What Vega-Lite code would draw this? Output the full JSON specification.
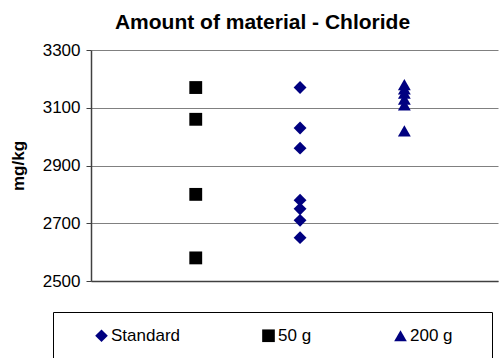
{
  "$schema": "https://vega.github.io/schema/vega-lite/v6.json",
  "width": 407,
  "height": 231,
  "autosize": {"type": "none"},
  "padding": {"left": 91, "top": 50, "right": 1, "bottom": 77},
  "background": "white",
  "title": {"text": "Amount of material - Chloride", "font": "Liberation Sans", "fontSize": 21, "fontWeight": "bold", "anchor": "middle", "frame": "group", "dx": -32, "dy": -4, "color": "#000000"},
  "data": {"values": [
    {"group": "50 g", "value": 3170},
    {"group": "50 g", "value": 3060},
    {"group": "50 g", "value": 2800},
    {"group": "50 g", "value": 2580},
    {"group": "Standard", "value": 3170},
    {"group": "Standard", "value": 3030},
    {"group": "Standard", "value": 2960},
    {"group": "Standard", "value": 2780},
    {"group": "Standard", "value": 2750},
    {"group": "Standard", "value": 2710},
    {"group": "Standard", "value": 2650},
    {"group": "200 g", "value": 3180},
    {"group": "200 g", "value": 3165},
    {"group": "200 g", "value": 3150},
    {"group": "200 g", "value": 3130},
    {"group": "200 g", "value": 3110},
    {"group": "200 g", "value": 3020}
  ]},
  "mark": {"type": "point", "filled": true, "opacity": 1, "size": 165, "strokeWidth": 0},
  "encoding": {
    "x": {"field": "group", "type": "nominal", "sort": ["50 g", "Standard", "200 g"],
      "scale": {"type": "point", "padding": 0.951, "align": 0.528},
      "axis": {"title": null, "labels": false, "ticks": false, "grid": false, "domainColor": "#404040", "domainWidth": 1.5}},
    "y": {"field": "value", "type": "quantitative",
      "scale": {"domain": [2500, 3300], "nice": false, "zero": false},
      "axis": {"title": "mg/kg", "values": [2500, 2700, 2900, 3100, 3300], "format": "d", "grid": true, "gridColor": "#808080", "gridWidth": 1,
        "domainColor": "#404040", "domainWidth": 1.5, "tickColor": "#404040", "tickSize": 5, "labelPadding": 6,
        "labelFontSize": 17, "labelColor": "#000000", "labelFont": "Liberation Sans",
        "titleFontSize": 17, "titleFontWeight": "bold", "titleColor": "#000000", "titleFont": "Liberation Sans", "titlePadding": 15}},
    "shape": {"field": "group", "type": "nominal",
      "scale": {"domain": ["Standard", "50 g", "200 g"], "range": ["diamond", "square", "triangle-up"]},
      "legend": {"title": "\u00a0", "labelExpr": "datum.label == '200 g' ? datum.label + '\u2800\u2800' : datum.label"}},
    "color": {"field": "group", "type": "nominal",
      "scale": {"domain": ["Standard", "50 g", "200 g"], "range": ["#000080", "#000000", "#000080"]},
      "legend": {"title": "\u00a0", "labelExpr": "datum.label == '200 g' ? datum.label + '\u2800\u2800' : datum.label"}}
  },
  "config": {
    "view": {"stroke": null},
    "font": "Liberation Sans",
    "legend": {
      "orient": "none", "legendX": -38, "legendY": 262, "direction": "horizontal", "columns": 3,
      "titleOrient": "left", "titlePadding": 25, "titleFontSize": 17,
      "padding": 15, "strokeColor": "#000000", "fillColor": "#ffffff",
      "symbolSize": 160, "symbolStrokeWidth": 0, "symbolOpacity": 1,
      "labelFontSize": 17, "labelColor": "#000000", "labelOffset": 1, "columnPadding": 80
    }
  }
}
